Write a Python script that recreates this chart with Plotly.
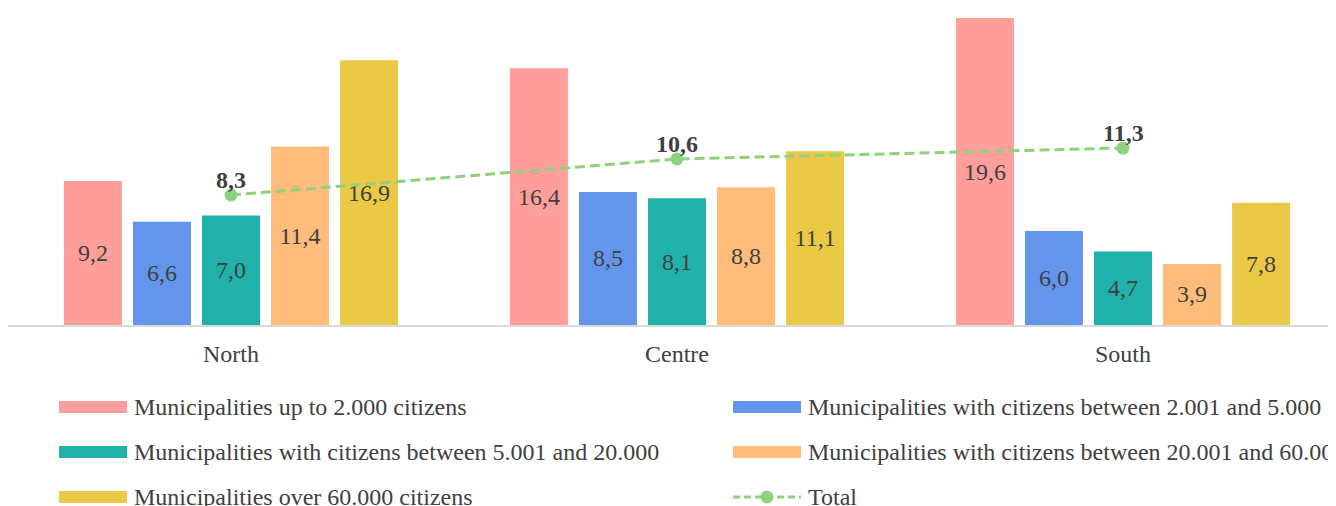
import plotly.graph_objects as go

regions = ["North", "Centre", "South"]
series_names = [
    "Municipalities up to 2.000 citizens",
    "Municipalities with citizens between 2.001 and 5.000",
    "Municipalities with citizens between 5.001 and 20.000",
    "Municipalities with citizens between 20.001 and 60.000",
    "Municipalities over 60.000 citizens",
]
up_to_2000 = [9.2, 16.4, 19.6]
from_2001_to_5000 = [6.6, 8.5, 6.0]
from_5001_to_20000 = [7.0, 8.1, 4.7]
from_20001_to_60000 = [11.4, 8.8, 3.9]
over_60000 = [16.9, 11.1, 7.8]
total_name = "Total"
total = [8.3, 10.6, 11.3]

series_values = [up_to_2000, from_2001_to_5000, from_5001_to_20000,
                 from_20001_to_60000, over_60000]
colors = ["#FF9E9A", "#6495ED", "#20B2AA", "#FFBC7A", "#EAC946"]
line_color = "#8ED27E"
text_color = "#404040"
FONT = "Liberation Serif, Times New Roman, serif"
FS = 24

OFF = 8  # page body margin offset
W, H = 1336 - OFF, 506 - OFF
L, T = 0, 0
plot_w = W - L
plot_h = 317
B = H - T - plot_h
PX_PER_UNIT = 15.66

fig = go.Figure()
for name, vals, col in zip(series_names, series_values, colors):
    fig.add_trace(go.Bar(
        x=regions, y=vals, name=name, marker=dict(color=col, line=dict(width=0)),
        texttemplate="%{y:.1f}", textposition="inside", insidetextanchor="middle",
        textangle=0, constraintext="none",
        textfont=dict(family=FONT, size=FS, color=text_color),
        showlegend=False, hoverinfo="skip",
    ))

fig.add_trace(go.Scatter(
    x=regions, y=total, name=total_name, mode="lines+markers",
    line=dict(color=line_color, width=3, dash="10px,5px"),
    marker=dict(color=line_color, size=13),
    showlegend=False, hoverinfo="skip",
))

annotations = []
for r, v in zip(regions, total):
    annotations.append(dict(x=r, y=v, xref="x", yref="y", yshift=15,
                            text="<b>" + f"{v:.1f}".replace(".", ",") + "</b>",
                            showarrow=False, yanchor="middle",
                            font=dict(family=FONT, size=FS, color=text_color)))

# custom legend (screen pixel positions converted to paper coords)
def px_x(sx):
    return (sx - OFF - L) / plot_w

def px_y(sy):
    return (T + plot_h - (sy - OFF)) / plot_h

legend_items = [(series_names[i], colors[i], "bar") for i in range(5)] + [(total_name, line_color, "line")]
col_x = [59, 733]
row_y = [407, 452, 497]
shapes = []
for idx, (name, col, kind) in enumerate(legend_items):
    cx = col_x[idx % 2]
    cy = row_y[idx // 2]
    if kind == "bar":
        shapes.append(dict(type="rect", xref="paper", yref="paper",
                           x0=px_x(cx), x1=px_x(cx + 68), y0=px_y(cy - 6), y1=px_y(cy + 6),
                           fillcolor=col, line=dict(width=0)))
    else:
        shapes.append(dict(type="line", xref="paper", yref="paper",
                           x0=px_x(cx), x1=px_x(cx + 68), y0=px_y(cy), y1=px_y(cy),
                           line=dict(color=col, width=3, dash="7px,4px")))
        shapes.append(dict(type="circle", xref="paper", yref="paper",
                           x0=px_x(cx + 34 - 6.5), x1=px_x(cx + 34 + 6.5),
                           y0=px_y(cy - 6.5), y1=px_y(cy + 6.5),
                           fillcolor=col, line=dict(width=0)))
    annotations.append(dict(text=name, xref="paper", yref="paper",
                            x=px_x(cx + 73), y=px_y(cy), xanchor="left", yanchor="middle",
                            showarrow=False,
                            font=dict(family=FONT, size=FS, color=text_color)))

fig.update_layout(
    width=W, height=H,
    margin=dict(l=L, r=0, t=T, b=B, pad=0),
    paper_bgcolor="white", plot_bgcolor="white",
    barmode="group", bargap=0.226, bargroupgap=0.16,
    separators=",.",
    showlegend=False,
    shapes=shapes, annotations=annotations,
    xaxis=dict(type="category", range=[-0.5, -0.5 + plot_w / 446.0], showgrid=False,
               showline=True, linecolor="#D9D9D9", linewidth=2,
               ticks="", ticklabelstandoff=6,
               tickfont=dict(family=FONT, size=FS, color=text_color)),
    yaxis=dict(range=[0, plot_h / PX_PER_UNIT], showgrid=False, showticklabels=False,
               zeroline=False, showline=False, ticks=""),
)

fig.write_html("out.html")
